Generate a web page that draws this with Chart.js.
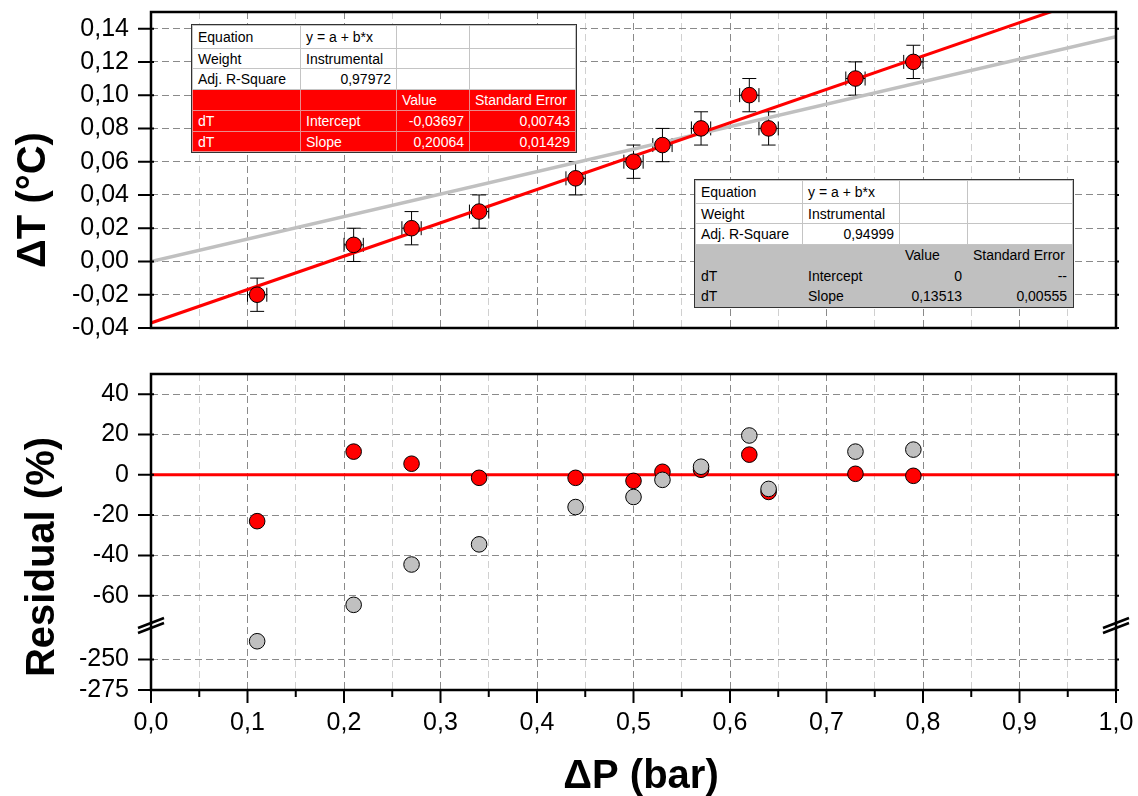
<!DOCTYPE html>
<html>
<head>
<meta charset="utf-8">
<script src="https://cdn.jsdelivr.net/npm/chart.js@4.4.0/dist/chart.umd.min.js"></script>
<style>
  body { margin: 0; background: #fff; }
  #wrap { position: relative; width: 1138px; height: 796px; overflow: hidden; }
  #wrap canvas { position: absolute; left: 0; top: 0; }
  table.fit { position: absolute; z-index: 3; border-collapse: collapse; table-layout: fixed;
    font-family: 'Liberation Sans', Arial, sans-serif; font-size: 14px; color: #000; background: #fff; }
  table.fit td { padding: 0 5px; white-space: nowrap; overflow: hidden; border: 1px solid #c4c4c4; }
  table.fit td.r { text-align: right; }
  table.fit { outline: 1px solid #333; }
  table.free tr.hl td { background: #ff0000; color: #fff; border-color: #e98a8a; }
  table.zero tr.hl td { background: #c0c0c0; border-color: #c0c0c0; }
</style>
</head>
<body>
<div id="wrap">
  <canvas id="top-chart" width="1138" height="796"></canvas>
  <canvas id="res-chart" width="1138" height="796"></canvas>
  <table class="fit free" id="free-table" style="left:192px; top:25px; width:383px;"></table>
  <table class="fit zero" id="zero-table" style="left:695px; top:180px; width:377px;"></table>
</div>
<script>
// measured points
const dP = [0.11, 0.21, 0.27, 0.34, 0.44, 0.50, 0.53, 0.57, 0.62, 0.64, 0.73, 0.79]
const dT = [-0.02, 0.01, 0.02, 0.03, 0.05, 0.06, 0.07, 0.08, 0.10, 0.08, 0.11, 0.12]
const dPErr = [0.01, 0.01, 0.01, 0.01, 0.01, 0.01, 0.01, 0.01, 0.01, 0.01, 0.01, 0.01]
const dTErr = [0.01, 0.01, 0.01, 0.01, 0.01, 0.01, 0.01, 0.01, 0.01, 0.01, 0.01, 0.01]

// residuals (%) for the free fit (red) and the fit through zero (grey)
const residFree = [-23, 11.5, 5.5, -1.5, -1.5, -3, 1.5, 2.5, 10, -8.5, 0.5, -0.5]
const residZero = [-235, -64.5, -44.5, -34.5, -16, -11, -2.5, 4, 19.5, -7, 11.5, 12.5]

// fit results
const freeFit = { intercept: -0.03697, interceptErr: 0.00743, slope: 0.20064, slopeErr: 0.01429, r2: 0.97972 }
const zeroFit = { intercept: 0, slope: 0.13513, slopeErr: 0.00555, r2: 0.94999 }
const fitRange = [0, 1]

const comma = (v, d) => (Math.round(v * Math.pow(10, d)) / Math.pow(10, d)).toFixed(d).replace('.', ',')

const RED = '#ff0000'
const GREY = '#c0c0c0'
const MAJOR_GRID = '#8a8a8a'
const MINOR_GRID = '#d0d0d0'

Chart.defaults.font.family = "'Liberation Sans', Arial, sans-serif"
Chart.defaults.color = '#000'

const isMajorX = v => Math.round(v * 20) % 2 === 0
const isMajorT = v => Math.round(v * 100) % 2 === 0
const isMajorUp = v => Math.round(v / 10) % 2 === 0
const isMajorLow = v => Math.round((v + 275) / 12.5) % 2 === 0

// fixed axis size, no extra label padding, so both panels line up
const fixSize = (w, h) => s => {
  if (w !== null) s.width = w
  if (h !== null) s.height = h
  s.paddingTop = s.paddingBottom = s.paddingLeft = s.paddingRight = 0
}

function drawTickMarks(chart, id, side, isMajor) {
  const s = chart.scales[id]
  const a = chart.chartArea
  const ctx = chart.ctx
  s.ticks.forEach(t => {
    const p = s.getPixelForValue(t.value)
    const len = isMajor(t.value) ? 13 : 7
    ctx.beginPath()
    if (side === 'left') {
      ctx.moveTo(a.left - len, p)
      ctx.lineTo(a.left + 3, p)
      ctx.moveTo(a.right - 1, p)
      ctx.lineTo(a.right + 3, p)
    } else {
      ctx.moveTo(p, a.bottom)
      ctx.lineTo(p, a.bottom + len)
    }
    ctx.stroke()
  })
}

function drawFrame(chart) {
  const { ctx, chartArea: a } = chart
  ctx.save()
  ctx.strokeStyle = '#000'
  ctx.lineWidth = 2.5
  ctx.strokeRect(a.left, a.top, a.right - a.left, a.bottom - a.top)
  ctx.restore()
}

function drawTitle(ctx, text, x, y, rotate) {
  ctx.save()
  ctx.translate(x, y)
  if (rotate) ctx.rotate(-Math.PI / 2)
  ctx.font = "bold 40px 'Liberation Sans', Arial, sans-serif"
  ctx.fillStyle = '#000'
  ctx.textAlign = 'center'
  ctx.textBaseline = 'alphabetic'
  ctx.fillText(text, 0, 0)
  ctx.restore()
}

const gridOpts = isMajor => ({
  drawTicks: false,
  lineWidth: 1,
  color: c => (c.tick && isMajor(c.tick.value) ? MAJOR_GRID : MINOR_GRID),
})

// error bars are drawn from the data arrays through the chart scales
const errorBars = {
  id: 'errorBars',
  beforeDatasetsDraw(chart) {
    const { ctx, scales: { x, y } } = chart
    ctx.save()
    ctx.strokeStyle = '#000'
    ctx.lineWidth = 1
    dP.forEach((p, i) => {
      const px = x.getPixelForValue(p)
      const py = y.getPixelForValue(dT[i])
      const y1 = y.getPixelForValue(dT[i] + dTErr[i])
      const y2 = y.getPixelForValue(dT[i] - dTErr[i])
      const x1 = x.getPixelForValue(p - dPErr[i])
      const x2 = x.getPixelForValue(p + dPErr[i])
      ctx.beginPath()
      ctx.moveTo(px, y1); ctx.lineTo(px, y2)
      ctx.moveTo(px - 7, y1); ctx.lineTo(px + 7, y1)
      ctx.moveTo(px - 7, y2); ctx.lineTo(px + 7, y2)
      ctx.moveTo(x1, py); ctx.lineTo(x2, py)
      ctx.moveTo(x1, py - 7); ctx.lineTo(x1, py + 7)
      ctx.moveTo(x2, py - 7); ctx.lineTo(x2, py + 7)
      ctx.stroke()
    })
    ctx.restore()
  },
}

const topDecor = {
  id: 'topDecor',
  afterDraw(chart) {
    drawFrame(chart)
    const ctx = chart.ctx
    ctx.save()
    ctx.strokeStyle = '#000'
    ctx.lineWidth = 2
    drawTickMarks(chart, 'y', 'left', isMajorT)
    ctx.restore()
    drawTitle(ctx, 'ΔT (°C)', 45, 200, true)
  },
}

const resDecor = {
  id: 'resDecor',
  afterDraw(chart) {
    drawFrame(chart)
    const ctx = chart.ctx
    const a = chart.chartArea
    ctx.save()
    ctx.strokeStyle = '#000'
    ctx.lineWidth = 2
    drawTickMarks(chart, 'yUp', 'left', isMajorUp)
    drawTickMarks(chart, 'yLow', 'left', isMajorLow)
    drawTickMarks(chart, 'x', 'bottom', isMajorX)
    // axis break marks
    const yb = chart.scales.yLow.top
    ctx.lineWidth = 2.5
    ;[a.left, a.right].forEach(x => {
      ctx.beginPath()
      ctx.moveTo(x - 13, yb + 2); ctx.lineTo(x + 13, yb - 8)
      ctx.moveTo(x - 13, yb + 7); ctx.lineTo(x + 13, yb - 3)
      ctx.stroke()
    })
    ctx.restore()
    drawTitle(ctx, 'Residual (%)', 54, 557, true)
    drawTitle(ctx, 'ΔP (bar)', 641, 788, false)
  },
}

const linePoints = fit => fitRange.map(x => ({ x, y: fit.intercept + fit.slope * x }))

new Chart(document.getElementById('top-chart'), {
  type: 'scatter',
  data: {
    datasets: [
      {
        label: 'dT',
        data: dP.map((x, i) => ({ x, y: dT[i] })),
        backgroundColor: RED,
        borderColor: '#000',
        borderWidth: 1,
        pointRadius: 7.8,
        order: 0,
      },
      {
        label: 'Linear fit',
        type: 'line',
        data: linePoints(freeFit),
        borderColor: RED,
        borderWidth: 3,
        pointRadius: 0,
        order: 1,
      },
      {
        label: 'Linear fit through zero',
        type: 'line',
        data: linePoints(zeroFit),
        borderColor: GREY,
        borderWidth: 3.5,
        pointRadius: 0,
        order: 2,
      },
    ],
  },
  options: {
    responsive: false,
    animation: false,
    devicePixelRatio: 1,
    layout: { padding: { top: 12, right: 22, bottom: 468, left: 0 } },
    scales: {
      x: {
        type: 'linear',
        min: 0,
        max: 1,
        ticks: { stepSize: 0.05, display: false },
        grid: gridOpts(isMajorX),
        border: { display: false, dash: [7, 4] },
        afterFit: fixSize(null, 0),
      },
      y: {
        type: 'linear',
        min: -0.04,
        max: 0.15,
        ticks: {
          stepSize: 0.01,
          padding: 22,
          font: { size: 25 },
          callback: v => (isMajorT(v) ? comma(v, 2) : ''),
        },
        grid: gridOpts(isMajorT),
        border: { display: false, dash: [7, 4] },
        afterFit: fixSize(151, null),
      },
    },
    plugins: { legend: { display: false }, tooltip: { enabled: false } },
  },
  plugins: [errorBars, topDecor],
})

const upOnly = (arr) => dP.map((x, i) => ({ x, y: arr[i] })).filter(p => p.y >= -75)
const lowOnly = (arr) => dP.map((x, i) => ({ x, y: arr[i] })).filter(p => p.y < -75)
const resPoint = (color, order) => ({
  backgroundColor: color,
  borderColor: '#000',
  borderWidth: 1,
  pointRadius: 7.8,
  order,
})

new Chart(document.getElementById('res-chart'), {
  type: 'scatter',
  data: {
    datasets: [
      { label: 'Residual through zero', data: upOnly(residZero), yAxisID: 'yUp', ...resPoint(GREY, 0) },
      { label: 'Residual through zero (low)', data: lowOnly(residZero), yAxisID: 'yLow', ...resPoint(GREY, 0) },
      { label: 'Residual', data: upOnly(residFree), yAxisID: 'yUp', ...resPoint(RED, 1) },
      { label: 'Residual (low)', data: lowOnly(residFree), yAxisID: 'yLow', ...resPoint(RED, 1) },
      {
        label: 'Zero',
        type: 'line',
        data: fitRange.map(x => ({ x, y: 0 })),
        yAxisID: 'yUp',
        borderColor: RED,
        borderWidth: 3,
        pointRadius: 0,
        order: 2,
      },
    ],
  },
  options: {
    responsive: false,
    animation: false,
    devicePixelRatio: 1,
    layout: { padding: { top: 374, right: 22, bottom: 0, left: 0 } },
    scales: {
      x: {
        type: 'linear',
        min: 0,
        max: 1,
        ticks: {
          stepSize: 0.05,
          autoSkip: false,
          maxRotation: 0,
          padding: 18,
          font: { size: 25 },
          callback: v => (isMajorX(v) ? comma(v, 1) : ''),
        },
        grid: gridOpts(isMajorX),
        border: { display: false, dash: [7, 4] },
        afterFit: fixSize(null, 106),
      },
      yLow: {
        type: 'linear',
        position: 'left',
        stack: 'res',
        stackWeight: 64,
        weight: 0,
        min: -275,
        max: -222.5,
        ticks: {
          stepSize: 12.5,
          padding: 22,
          font: { size: 25 },
          callback: v => (isMajorLow(v) ? String(v) : ''),
        },
        afterBuildTicks: s => { s.ticks = s.ticks.filter(t => t.value <= -237) },
        grid: gridOpts(isMajorLow),
        border: { display: false, dash: [7, 4] },
        afterFit: fixSize(151, null),
      },
      yUp: {
        type: 'linear',
        position: 'left',
        stack: 'res',
        stackWeight: 252,
        weight: 1,
        min: -75,
        max: 50,
        ticks: {
          stepSize: 10,
          padding: 22,
          font: { size: 25 },
          callback: v => (isMajorUp(v) ? String(Math.round(v)) : ''),
        },
        afterBuildTicks: s => { s.ticks = s.ticks.filter(t => t.value > -74 && t.value < 49) },
        grid: gridOpts(isMajorUp),
        border: { display: false, dash: [7, 4] },
        afterFit: fixSize(151, null),
      },
    },
    plugins: { legend: { display: false }, tooltip: { enabled: false } },
  },
  plugins: [resDecor],
})

// fit tables
function buildTable(id, rows, heights, widths) {
  const t = document.getElementById(id)
  t.innerHTML =
    '<colgroup>' + widths.map(w => `<col style="width:${w}px">`).join('') + '</colgroup>' +
    rows.map((r, i) =>
      `<tr class="${i >= 3 ? 'hl' : ''}" style="height:${heights[i]}px">` +
      r.map(c => `<td class="${c.r ? 'r' : ''}">${c.t}</td>`).join('') + '</tr>'
    ).join('')
}

const L = t => ({ t })
const R = t => ({ t, r: true })

buildTable('free-table', [
  [L('Equation'), L('y = a + b*x'), L(''), L('')],
  [L('Weight'), L('Instrumental'), L(''), L('')],
  [L('Adj. R-Square'), R(comma(freeFit.r2, 5)), L(''), L('')],
  [L(''), L(''), L('Value'), L('Standard Error')],
  [L('dT'), L('Intercept'), R(comma(freeFit.intercept, 5)), R(comma(freeFit.interceptErr, 5))],
  [L('dT'), L('Slope'), R(comma(freeFit.slope, 5)), R(comma(freeFit.slopeErr, 5))],
], [23, 20, 21, 21, 21, 20], [108, 96, 73, 106])

buildTable('zero-table', [
  [L('Equation'), L('y = a + b*x'), L(''), L('')],
  [L('Weight'), L('Instrumental'), L(''), L('')],
  [L('Adj. R-Square'), R(comma(zeroFit.r2, 5)), L(''), L('')],
  [L(''), L(''), L('Value'), L('Standard Error')],
  [L('dT'), L('Intercept'), R(String(zeroFit.intercept)), R('--')],
  [L('dT'), L('Slope'), R(comma(zeroFit.slope, 5)), R(comma(zeroFit.slopeErr, 5))],
], [23, 20, 21, 21, 20, 21], [107, 97, 68, 105])
</script>
</body>
</html>
